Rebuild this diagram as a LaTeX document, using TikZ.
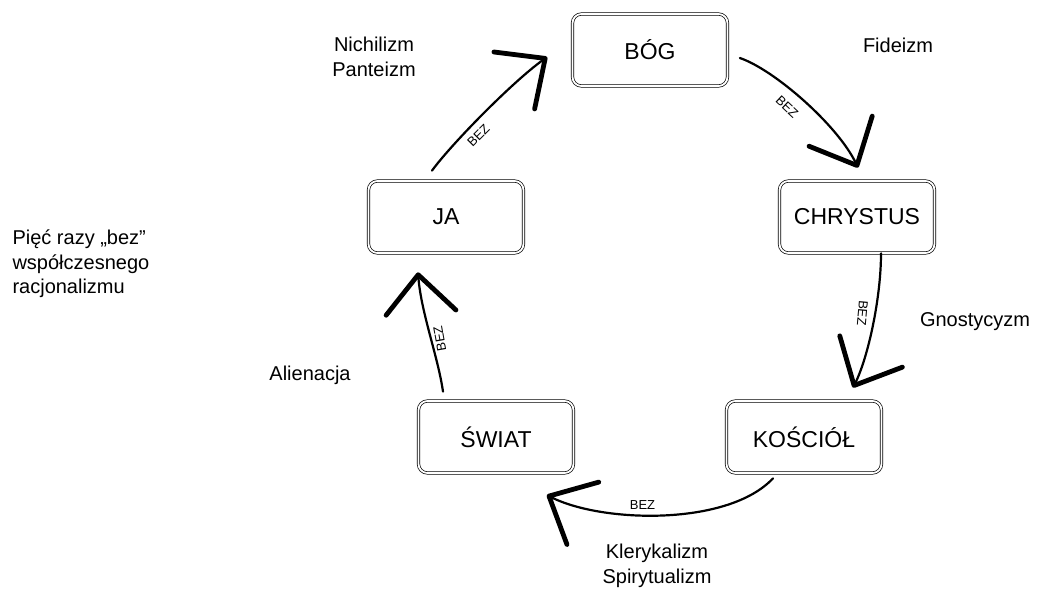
\documentclass[tikz,border=0pt]{standalone}
\usepackage{fontspec}
\setmainfont{Liberation Sans}
\usepackage{tikz}
\usetikzlibrary{arrows.meta,calc}
\tikzset{
  stagebox/.style={
    draw=black,
    double,
    double distance=1.8pt,
    line width=0.7pt,
    rounded corners=9pt,
    minimum width=155pt,
    minimum height=72pt,
    inner sep=0pt,
    font=\fontsize{23}{27}\selectfont
  },
  sidelabel/.style={align=center, font=\fontsize{20}{24.5}\selectfont},
  bezlabel/.style={font=\fontsize{13}{15}\selectfont, inner sep=3pt},
  bezarrow/.style={line width=2.2pt, line cap=round,
    -{Straight Barb[length=38pt,width=70pt,line width'=4.8pt,round]}}
}
\begin{document}
\begin{tikzpicture}[x=1pt,y=-1pt]
  \useasboundingbox (0,0) rectangle (1039,593);
  \node[stagebox] (bog) at (650,50) {BÓG};
  \node[stagebox] (chrystus) at (857,217) {CHRYSTUS};
  \node[stagebox] (kosciol) at (804,437) {KOŚCIÓŁ};
  \node[stagebox] (swiat) at (496,437) {ŚWIAT};
  \node[stagebox] (ja) at (446,217) {JA};
  \node[sidelabel] (nichilizm) at (374,57) {Nichilizm\\Panteizm};
  \node[sidelabel] (fideizm) at (898,45) {Fideizm};
  \node[sidelabel] (gnostycyzm) at (975,322) {Gnostycyzm};
  \node[sidelabel] (alienacja) at (310,375) {Alienacja};
  \node[sidelabel] (klerykalizm) at (657,566) {Klerykalizm\\Spirytualizm};
  \node[sidelabel, align=left, anchor=west] (tytul) at (9,264) {Pięć razy „bez”\\współczesnego\\racjonalizmu};
  \draw[bezarrow] ($(ja.north)+(-14,-10)$) .. controls +(18,-25) and +(-35,25) .. ($(bog.west)+(-25,7)$)
    node[bezlabel, pos=0.4, rotate=45, anchor=north, inner sep=6pt] {BEZ};
  \draw[bezarrow] ($(bog.east)+(12,8)$) .. controls +(35,12) and +(-20,-42) .. ($(chrystus.north)+(1,-13)$)
    node[bezlabel, pos=0.45, rotate=-43, anchor=north, inner sep=10pt] {BEZ};
  \draw[bezarrow] ($(chrystus.south)+(24,0)$) .. controls +(0,45) and +(15,-30) .. ($(kosciol.north)+(49,-13)$)
    node[bezlabel, pos=0.42, rotate=-95, anchor=north, inner sep=7pt] {BEZ};
  \draw[bezarrow] ($(kosciol.south)+(-31,5)$) .. controls +(-45,48) and +(55,28) .. ($(swiat.east)+(-27,58)$)
    node[bezlabel, pos=0.58, anchor=south, inner sep=5pt] {BEZ};
  \draw[bezarrow] ($(swiat.north)+(-53,-9)$) .. controls +(-5,-35) and +(3,40) .. ($(ja.south)+(-28,19)$)
    node[bezlabel, pos=0.45, rotate=100, anchor=north] {BEZ};
\end{tikzpicture}
\end{document}
